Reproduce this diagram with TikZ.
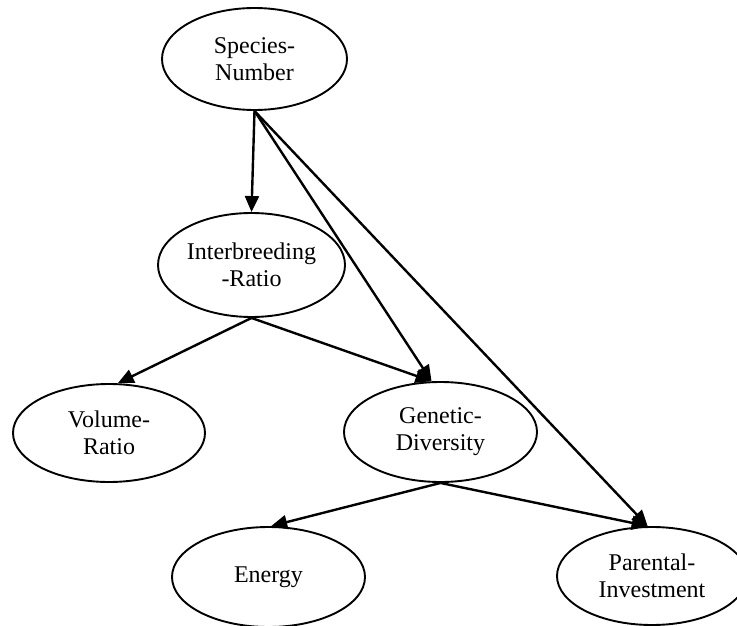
\documentclass[tikz,border=0pt]{standalone}
\usepackage{fontspec}
\setmainfont{Liberation Serif}
\usetikzlibrary{arrows.meta,shapes.geometric}
\begin{document}
\begin{tikzpicture}[x=1pt,y=-1pt,
  box/.style={draw, ellipse, line width=1.9pt, inner sep=0pt,
    font=\fontsize{24}{27}\selectfont, align=center},
  arr/.style={-{Triangle[length=16pt,width=14pt]}, line width=2.4pt}]
\useasboundingbox (0,0) rectangle (737,626);
\node[box, minimum width=185pt, minimum height=102pt] (sp) at (254.5,59) {Species-\\Number};
\node[box, minimum width=187pt, minimum height=104pt] (ib) at (251.5,265) {Interbreeding\\-Ratio};
\node[box, minimum width=192pt, minimum height=98pt] (vr) at (109,433) {Volume-\\Ratio};
\node[box, minimum width=193pt, minimum height=100pt] (gd) at (440.5,432) {Genetic-\\Diversity};
\node[box, minimum width=193pt, minimum height=100pt] (en) at (268.5,577) {Energy};
\node[box, minimum width=190pt, minimum height=98pt] (pi) at (652,576) {Parental-\\Investment};
\draw[arr] (sp.south) -- (ib.north);
\draw[arr] (sp.south) -- (gd.100);
\draw[arr] (sp.south) -- (pi.95);
\draw[arr] (ib.south) -- (vr.80);
\draw[arr] (ib.south) -- (gd.100);
\draw[arr] (gd.south) -- (en.87);
\draw[arr] (gd.south) -- (pi.95);
\end{tikzpicture}
\end{document}
